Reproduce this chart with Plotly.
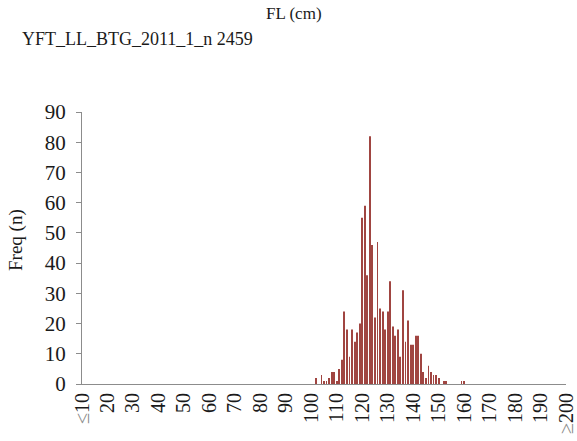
import plotly.graph_objects as go

# Fork length classes (cm), one bar per centimetre from <=10 to >=200
length_cm = list(range(10, 201))

# Observed counts per length class (classes not listed are zero)
count_lengths = [102, 104, 105, 106, 107, 108, 109, 110, 111, 112,
                 113, 114, 115, 116, 117, 118, 119, 120, 121, 122,
                 123, 124, 125, 126, 127, 128, 129, 130, 131, 132,
                 133, 134, 135, 136, 137, 138, 139, 140, 141, 142,
                 143, 144, 145, 146, 147, 148, 149, 150, 152, 153,
                 159, 160]
count_values = [2, 3, 1, 1, 2, 4, 4, 1, 5, 8,
                24, 18, 9, 18, 14, 17, 20, 55, 59, 36,
                82, 46, 22, 47, 25, 24, 18, 24, 34, 19,
                16, 18, 9, 31, 14, 21, 13, 13, 16, 16,
                10, 4, 2, 6, 4, 3, 3, 2, 1, 1,
                1, 1]

tick_values = list(range(10, 201, 10))
tick_labels = ["<span style='color:#8a8a8a'>≤</span>10"] + \
              [str(v) for v in range(20, 200, 10)] + \
              ["<span style='color:#8a8a8a'>≥</span>200"]

y_ticks = list(range(0, 91, 10))

counts = dict(zip(count_lengths, count_values))
freq = [counts.get(v, 0) for v in length_cm]

SERIF = "Liberation Serif, Times New Roman, serif"
AXIS_GREY = "#8c8c8c"
TEXT = "#1a1a1a"

fig = go.Figure(go.Bar(
    x=length_cm,
    y=freq,
    width=0.35,
    marker=dict(color="#a04541", line=dict(width=0)),
))

fig.update_layout(
    template="none",
    width=577, height=441,
    margin=dict(l=82, r=11, t=112, b=57, autoexpand=False),
    paper_bgcolor="white", plot_bgcolor="white",
    showlegend=False,
    font=dict(family=SERIF, color=TEXT),
    xaxis=dict(
        range=[10, 200], automargin=False,
        tickmode="array", tickvals=tick_values, ticktext=tick_labels,
        tickangle=-90, tickfont=dict(size=20, family=SERIF, color=TEXT),
        showline=True, linecolor=AXIS_GREY, linewidth=1,
        ticks="", showgrid=False, zeroline=False,
    ),
    yaxis=dict(
        range=[0, 90], automargin=False,
        tickmode="array", tickvals=y_ticks,
        tickfont=dict(size=21, family=SERIF, color=TEXT),
        showline=True, linecolor=AXIS_GREY, linewidth=1,
        ticks="outside", ticklen=5, tickcolor=AXIS_GREY,
        ticklabelstandoff=6,
        showgrid=False, zeroline=False,
    ),
    annotations=[
        dict(text="YFT_LL_BTG_2011_1_n 2459", xref="paper", yref="paper",
             x=(137 - 82) / 484, y=(384 - 39) / 272, xanchor="center", yanchor="middle",
             showarrow=False, font=dict(size=18, family=SERIF, color=TEXT)),
        dict(text="FL (cm)", xref="paper", yref="paper",
             x=(294 - 82) / 484, y=(384 - 14) / 272, xanchor="center", yanchor="middle",
             showarrow=False, font=dict(size=17, family=SERIF, color=TEXT)),
        dict(text="Freq (n)", xref="paper", yref="paper",
             x=(16 - 82) / 484, y=(384 - 240) / 272, xanchor="center", yanchor="middle",
             textangle=-90, showarrow=False,
             font=dict(size=19, family=SERIF, color=TEXT)),
    ],
)

fig.write_html("out.html")
